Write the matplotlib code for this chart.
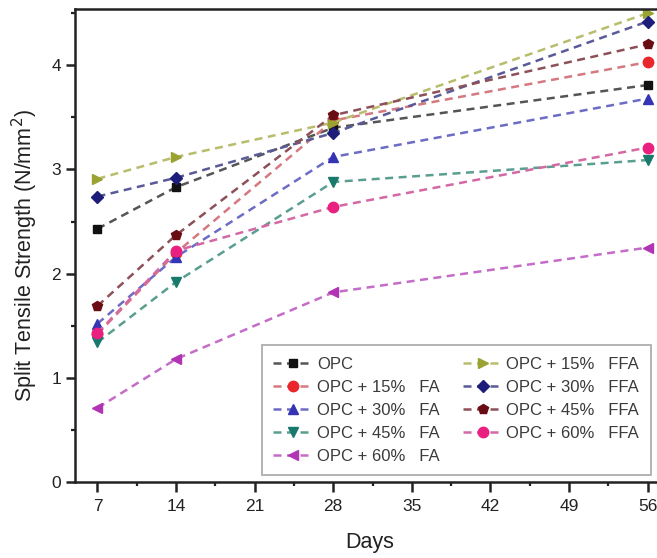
import numpy as np
import matplotlib
matplotlib.use('Agg')
import matplotlib.pyplot as plt
from matplotlib.ticker import MultipleLocator

plt.rcParams['font.family'] = ['Liberation Sans', 'DejaVu Sans']

days = [7, 14, 28, 56]

# split tensile strength (N/mm2) per mix
opc = [2.43, 2.83, 3.40, 3.81]
fa15 = [1.42, 2.20, 3.47, 4.03]
fa30 = [1.52, 2.16, 3.12, 3.68]
fa45 = [1.34, 1.92, 2.88, 3.09]
fa60 = [0.71, 1.18, 1.82, 2.25]
ffa15 = [2.91, 3.12, 3.45, 4.50]
ffa30 = [2.74, 2.92, 3.35, 4.42]
ffa45 = [1.69, 2.37, 3.52, 4.20]
ffa60 = [1.43, 2.22, 2.64, 3.21]

labels = ['OPC', 'OPC + 15%   FA', 'OPC + 30%   FA', 'OPC + 45%   FA', 'OPC + 60%   FA',
          'OPC + 15%   FFA', 'OPC + 30%   FFA', 'OPC + 45%   FFA', 'OPC + 60%   FFA']
series = [opc, fa15, fa30, fa45, fa60, ffa15, ffa30, ffa45, ffa60]

# (marker, marker colour, line colour)
styles = [
    ('s', '#111111', '#555555'),
    ('o', '#e8262b', '#d57880'),
    ('^', '#3434b4', '#6c6cc4'),
    ('v', '#177a6c', '#5a9e90'),
    ('<', '#b034b4', '#c46cc8'),
    ('>', '#9aa332', '#b8bd6c'),
    ('D', '#1e1e7a', '#5a5a98'),
    ('p', '#6a0c14', '#8c5058'),
    ('o', '#ea2080', '#d468a4'),
]

fig = plt.figure(figsize=(6.57, 5.58), dpi=100)
ax = fig.add_axes([75 / 657, 76 / 558, 595 / 657, 473 / 558])

for vals, lab, (mk, mc, lc) in zip(series, labels, styles):
    ms = 6 if mk in ('D', 's') else 7.5
    ax.plot(days, vals, linestyle=(0, (3.2, 2.2)), color=lc, linewidth=1.8,
            marker=mk, markersize=ms, markerfacecolor=mc, markeredgecolor=mc,
            label=lab)

ax.set_xlim(5, 58)
ax.set_ylim(0, 4.54)
ax.set_xticks([7, 14, 21, 28, 35, 42, 49, 56])
ax.xaxis.set_minor_locator(MultipleLocator(3.5))
ax.yaxis.set_major_locator(MultipleLocator(1))
ax.yaxis.set_minor_locator(MultipleLocator(0.5))

for s in ax.spines.values():
    s.set_linewidth(1.8)
    s.set_color('#222222')

ax.tick_params(axis='both', which='major', direction='out', length=6.5, width=1.8,
               labelsize=12.5, colors='#222222', pad=3.5)
ax.tick_params(axis='both', which='minor', direction='out', length=3, width=1.6,
               colors='#222222')
ax.tick_params(axis='x', which='major', length=7.5, pad=4.5)

ax.set_xlabel('Days', fontsize=15.5, color='#222222')
ax.set_ylabel('Split Tensile Strength (N/mm$^2$)', fontsize=15.5, color='#222222')
ax.xaxis.set_label_coords(0.495, -0.105)
ax.yaxis.set_label_coords(-0.059, 0.478)

leg = ax.legend(ncol=2, loc='lower left', bbox_to_anchor=(0.314, 0.014),
                fontsize=12, frameon=True, fancybox=False, edgecolor='#999999',
                handlelength=2.4, columnspacing=1.4, labelspacing=0.48,
                borderpad=0.7, handletextpad=0.2, borderaxespad=0)
leg.get_frame().set_linewidth(1.3)
for t in leg.get_texts():
    t.set_color('#3a3a3a')

fig.savefig('out.png', dpi=100)
